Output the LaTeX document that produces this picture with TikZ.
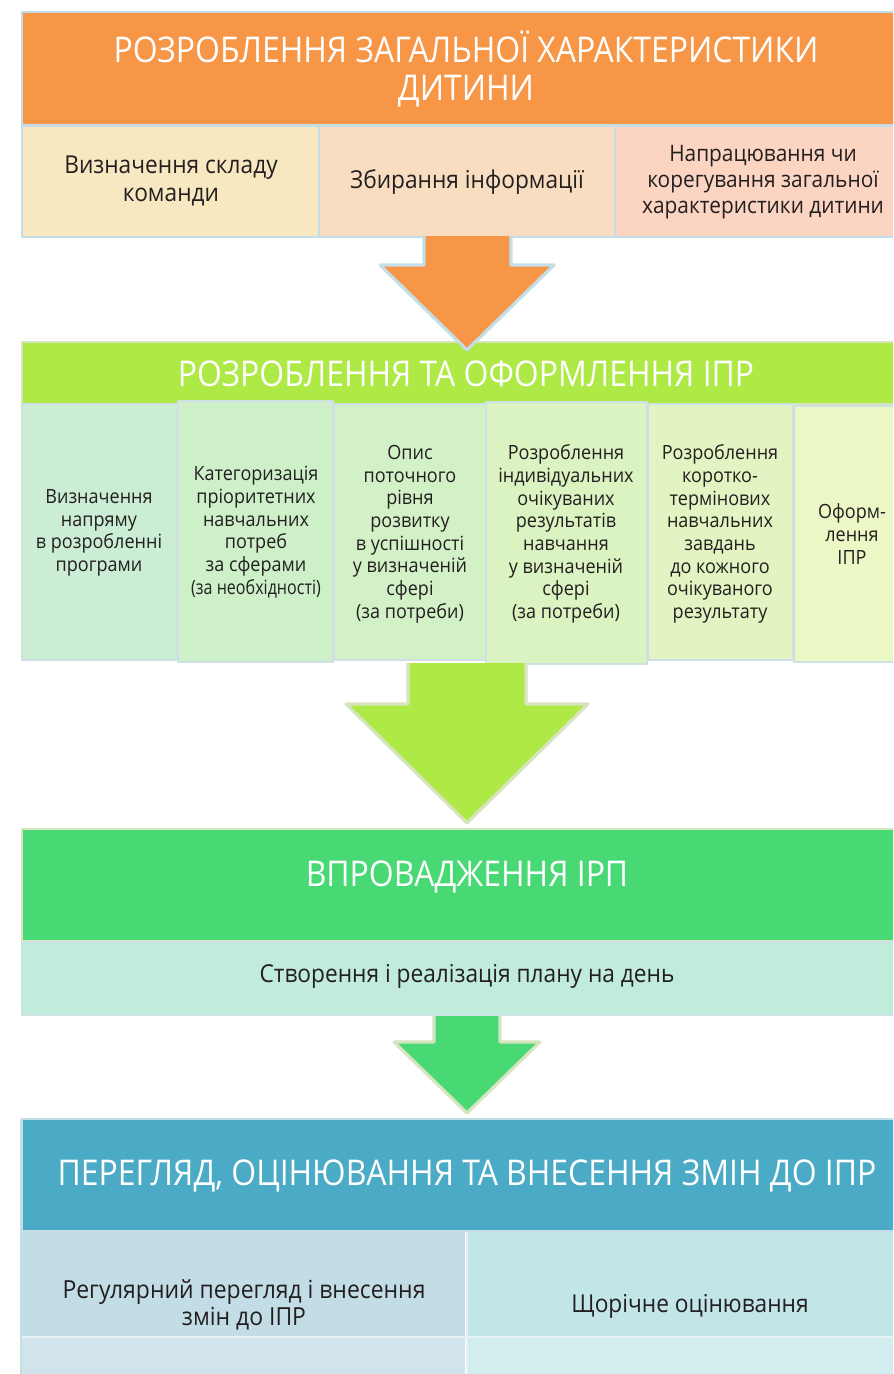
\documentclass[tikz,border=0pt]{standalone}
\usepackage{fontspec}
\setmainfont{Open Sans}
\newfontfamily\hfont[FakeStretch=0.9]{Open Sans}
\newfontfamily\bfont[FakeStretch=0.92]{Open Sans}
\definecolor{orangeH}{HTML}{F79646}
\definecolor{bA}{HTML}{F8E8C2}
\definecolor{bB}{HTML}{F9DDC0}
\definecolor{bC}{HTML}{FBD5C2}
\definecolor{limeH}{HTML}{AEE946}
\definecolor{cA}{HTML}{CBEDD3}
\definecolor{cB}{HTML}{CDF0C9}
\definecolor{cC}{HTML}{D3F1C7}
\definecolor{cD}{HTML}{DAF3C1}
\definecolor{cE}{HTML}{E1F4C1}
\definecolor{cF}{HTML}{ECF7C6}
\definecolor{greenH}{HTML}{48D975}
\definecolor{sub3}{HTML}{C1EBDA}
\definecolor{tealH}{HTML}{4BABC6}
\definecolor{dA}{HTML}{C3DDE6}
\definecolor{dB}{HTML}{C2E5E7}
\definecolor{eA}{HTML}{D2E4EB}
\definecolor{eB}{HTML}{D2EDED}
\definecolor{blueB}{HTML}{C3DEE6}
\definecolor{greyB}{HTML}{CFE0E4}
\definecolor{oliveB}{HTML}{D6E5C0}
\definecolor{txt}{HTML}{231F20}
\tikzset{
  box/.style={draw=blueB, line width=2.2pt, inner sep=0pt},
  ttl/.style={text=white, font=\hfont\fontsize{26.6}{28.5}\selectfont, align=center},
  sub/.style={text=txt, font=\bfont\fontsize{18.5}{21}\selectfont, align=center},
  col/.style={text=txt, font=\bfont\fontsize{14.7}{17}\selectfont, align=center},
  arr/.style={line width=2.4pt, line join=round},
}
\begin{document}
\begin{tikzpicture}[x=0.75pt,y=-0.75pt]
\useasboundingbox (0,0) rectangle (893,1374);
\clip (0,0) rectangle (893,1374);
% ---------- section 1
\draw[box, fill=orangeH] (22,12) rectangle (910,125);
\draw[box, fill=bA] (22,126) rectangle (319,237);
\draw[box, fill=bB] (319,126) rectangle (615,237);
\draw[box, fill=bC] (615,126) rectangle (910,237);
\node[ttl] (t1) at (466,69) {РОЗРОБЛЕННЯ ЗАГАЛЬНОЇ ХАРАКТЕРИСТИКИ\\ДИТИНИ};
\node[sub] (s11) at (171,181) {Визначення складу\\команди};
\node[sub] (s12) at (467,182) {Збирання інформації};
\node[sub, font=\bfont\fontsize{17}{19.5}\selectfont] (s13) at (763,182) {Напрацювання чи\\корегування загальної\\характеристики дитини};
% ---------- section 2
\draw[box, draw=oliveB, fill=limeH] (22,342) rectangle (910,404);
\draw[box, draw=greyB, fill=cA] (22,404) rectangle (177,660);
\draw[box, draw=greyB, fill=cB] (178,401) rectangle (333,662);
\draw[box, draw=greyB, fill=cC] (334,404) rectangle (486,660);
\draw[box, draw=greyB, fill=cD] (486,402) rectangle (647,664);
\draw[box, draw=greyB, fill=cE] (648,404) rectangle (793,660);
\draw[box, draw=greyB, fill=cF] (794,406) rectangle (910,662);
\node[ttl] (t2) at (466,374) {РОЗРОБЛЕННЯ ТА ОФОРМЛЕННЯ ІПР};
\node[col] (c1) at (99,533) {Визначення\\напряму\\в розробленні\\програми};
\node[col] (c2) at (256,532) {Категоризація\\пріоритетних\\навчальних\\потреб\\за сферами\\{\addfontfeature{FakeStretch=0.82}(за необхідності)}};
\node[col] (c3) at (410,534) {Опис\\поточного\\рівня\\розвитку\\в успішності\\у визначеній\\сфері\\(за потреби)};
\node[col] (c4) at (566,534) {Розроблення\\індивідуальних\\очікуваних\\результатів\\навчання\\у визначеній\\сфері\\(за потреби)};
\node[col] (c5) at (720,534) {Розроблення\\коротко-\\термінових\\навчальних\\завдань\\до кожного\\очікуваного\\результату};
\node[col] (c6) at (852,534) {Оформ-\\лення\\ІПР};
% ---------- section 3
\draw[box, draw=oliveB, fill=greenH] (22,829) rectangle (910,941);
\draw[box, draw=greyB, fill=sub3] (22,942) rectangle (910,1015);
\node[ttl] (t3) at (467,877) {ВПРОВАДЖЕННЯ ІРП};
\node[sub] (s31) at (467,976) {Створення і реалізація плану на день};
% ---------- section 4
\draw[box, fill=tealH] (22,1119) rectangle (910,1231);
\fill[dA] (22,1232) rectangle (465,1336);
\fill[dB] (468,1232) rectangle (910,1336);
\fill[eA] (22,1338) rectangle (465,1380);
\fill[eB] (468,1338) rectangle (910,1380);
\draw[blueB, line width=2.2pt] (21,1119) -- (21,1380);
\draw[white!60!blueB, line width=1.5pt] (466.5,1232) -- (466.5,1380);
\draw[white!60!blueB, line width=1.5pt] (22,1337) -- (910,1337);
\node[ttl] (t4) at (467,1176) {ПЕРЕГЛЯД, ОЦІНЮВАННЯ ТА ВНЕСЕННЯ ЗМІН ДО ІПР};
\node[sub, font=\bfont\fontsize{18.7}{20.3}\selectfont] (s41) at (244,1305) {Регулярний перегляд і внесення\\змін до ІПР};
\node[sub, font=\bfont\fontsize{18.5}{20.3}\selectfont] (s42) at (690,1306) {Щорічне оцінювання};
% ---------- arrows
\draw[arr, draw=blueB, fill=orangeH] (424,236) -- (424,265) -- (380,265) -- (467,350) -- (554,265) -- (511,265) -- (511,236);
\draw[arr, draw=oliveB, fill=limeH] (408,663) -- (408,704) -- (346,704) -- (467,823) -- (588,704) -- (526,704) -- (526,663);
\draw[arr, draw=oliveB, fill=greenH] (434,1016) -- (434,1042) -- (394,1042) -- (467,1113) -- (540,1042) -- (500,1042) -- (500,1016);
\end{tikzpicture}
\end{document}
